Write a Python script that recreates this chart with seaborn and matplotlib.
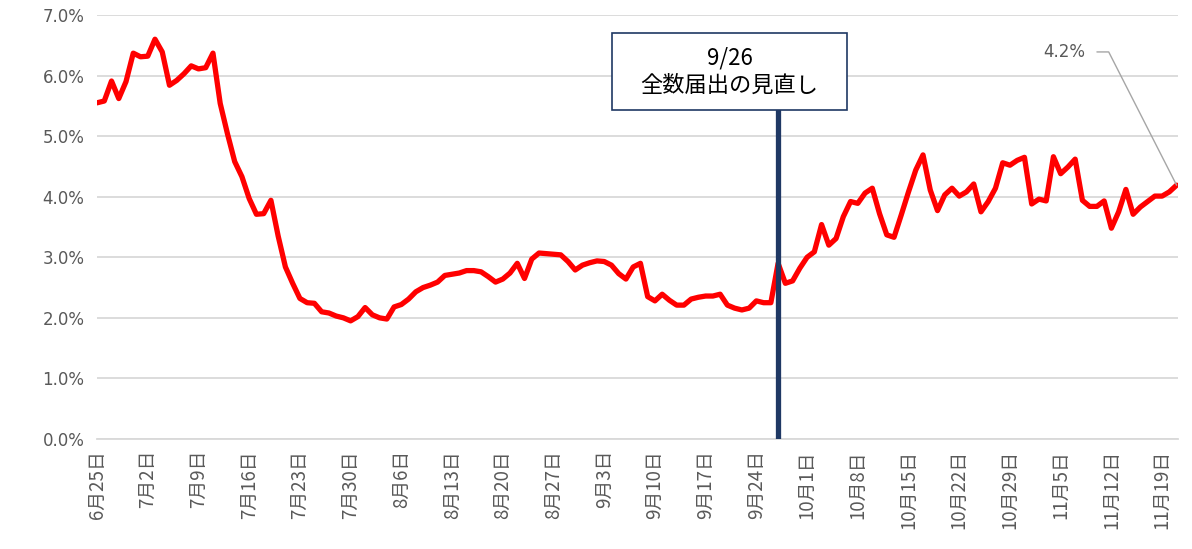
# -*- coding: utf-8 -*-
"""
新規陽性者に占める割合の推移（6/25〜11/21）
"""
import pandas as pd
import matplotlib
matplotlib.use("Agg")
import matplotlib.pyplot as plt
import matplotlib.ticker as mticker
from matplotlib.patches import Rectangle
import seaborn as sns

sns.set_theme(style="white")
plt.rcParams["font.family"] = ["Noto Sans CJK JP", "DejaVu Sans"]

# ── データ（日次, %）6/25 → 11/21 ─────────────────────────
rate_jun_jul = [5.55, 5.58, 5.91, 5.62, 5.90, 6.37, 6.31, 6.32, 6.60, 6.39,
                5.84, 5.92, 6.03, 6.16, 6.11, 6.13, 6.37, 5.54, 5.04, 4.58,
                4.33, 3.97, 3.71, 3.72, 3.94, 3.35, 2.84, 2.57, 2.32, 2.25,
                2.24, 2.10, 2.08, 2.03, 2.00, 1.95, 2.02]
rate_aug = [2.17, 2.05, 2.00, 1.98, 2.18, 2.22, 2.31, 2.43, 2.50, 2.54,
            2.59, 2.70, 2.72, 2.74, 2.78, 2.78, 2.76, 2.68, 2.59, 2.64,
            2.74, 2.90, 2.65, 2.97, 3.07, 3.06, 3.05, 3.04, 2.93, 2.79,
            2.87]
rate_sep = [2.91, 2.94, 2.93, 2.87, 2.73, 2.64, 2.84, 2.90, 2.35, 2.28,
            2.39, 2.29, 2.21, 2.21, 2.31, 2.34, 2.36, 2.36, 2.39, 2.21,
            2.16, 2.13, 2.16, 2.28, 2.25, 2.25, 2.90, 2.57, 2.61, 2.82]
rate_oct = [3.00, 3.09, 3.54, 3.20, 3.31, 3.67, 3.92, 3.89, 4.06, 4.14,
            3.72, 3.37, 3.33, 3.70, 4.08, 4.44, 4.69, 4.11, 3.77, 4.03,
            4.14, 4.01, 4.08, 4.21, 3.75, 3.92, 4.14, 4.56, 4.52, 4.60,
            4.65]
rate_nov = [3.88, 3.96, 3.93, 4.66, 4.38, 4.49, 4.62, 3.94, 3.84, 3.84,
            3.93, 3.48, 3.75, 4.12, 3.71, 3.83, 3.92, 4.01, 4.01, 4.08,
            4.19]
rate = rate_jun_jul + rate_aug + rate_sep + rate_oct + rate_nov

tick_labels = ["6月25日", "7月2日", "7月9日", "7月16日", "7月23日", "7月30日",
               "8月6日", "8月13日", "8月20日", "8月27日", "9月3日", "9月10日",
               "9月17日", "9月24日", "10月1日", "10月8日", "10月15日", "10月22日",
               "10月29日", "11月5日", "11月12日", "11月19日"]
event_day = 94          # 見直しの縦線（日インデックス）
event_label = "9/26\n全数届出の見直し"
last_label = "4.2%"

df = pd.DataFrame({"day": range(len(rate)), "rate": rate})

RED = "#FF0000"
NAVY = "#1F3864"
GRID = "#D9D9D9"
TXT = "#595959"

fig = plt.figure(figsize=(11.92, 5.49), dpi=100)
ax = fig.add_axes([0.0814, 0.2004, 0.9069, 0.7723])

sns.lineplot(data=df, x="day", y="rate", ax=ax, color=RED, linewidth=3.8,
             zorder=3)

ax.set_xlim(0, len(rate) - 0.8)
ax.set_ylim(0, 7)
ax.yaxis.set_major_locator(mticker.MultipleLocator(1))
ax.yaxis.set_major_formatter(mticker.FuncFormatter(lambda v, _: f"{v:.1f}%"))
ax.grid(axis="y", color=GRID, linewidth=1.3)
ax.set_axisbelow(True)

ax.set_xticks(range(0, 7 * len(tick_labels), 7))
ax.set_xticklabels(tick_labels, rotation=90, fontsize=13.5, color=TXT)
for t in ax.get_yticklabels():
    t.set_family("DejaVu Sans")
    t.set_fontsize(12)
    t.set_color(TXT)
ax.tick_params(axis="x", length=5, width=1, color=GRID, direction="out", pad=3)
ax.tick_params(axis="y", length=0, pad=9)
ax.set_xlabel("")
ax.set_ylabel("")
for s in ["left", "right", "top"]:
    ax.spines[s].set_visible(False)
ax.spines["bottom"].set_color(GRID)
ax.spines["bottom"].set_linewidth(1.3)

# 縦線 + ラベルボックス
ax.plot([event_day, event_day], [0, 5.43], color=NAVY, linewidth=3.8, zorder=4)
ax.add_patch(Rectangle((71.1, 5.43), 32.4, 1.27, facecolor="white",
                       edgecolor=NAVY, linewidth=1.2, zorder=5))
ax.text(87.3, 6.07, event_label, ha="center", va="center", fontsize=16,
        color="black", linespacing=1.25, zorder=6)

# 最終値ラベル
ax.annotate(last_label, xy=(len(rate) - 1, rate[-1]), xytext=(136.4, 6.39),
            ha="right", va="center", fontsize=12, color=TXT, family="DejaVu Sans",
            arrowprops=dict(arrowstyle="-", color="#A6A6A6", lw=1,
                            shrinkA=6, shrinkB=0, relpos=(1, 0.5),
                            connectionstyle="angle,angleA=0,angleB=117,rad=0"))

plt.savefig("out.png", dpi=100)
plt.close()
